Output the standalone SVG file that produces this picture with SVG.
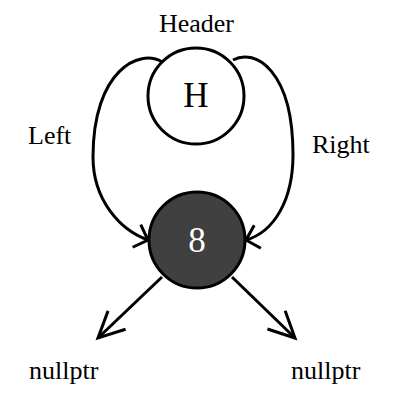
<svg xmlns="http://www.w3.org/2000/svg" width="400" height="400" viewBox="0 0 400 400">
<style>
  text { font-family: "Liberation Serif", "Times New Roman", "DejaVu Serif", serif; }
  .lbl { font-size: 26px; fill: #000; }
  .big { font-size: 35px; }
  .white { fill: #fff; }
  .node { stroke: #000; stroke-width: 3; }
  .conn { fill: none; stroke: #000; stroke-width: 3; }
  .head { fill: none; stroke: #000; stroke-width: 3; }
</style>
<defs>
  <marker id="arrC" markerUnits="userSpaceOnUse" orient="auto" overflow="visible" markerWidth="1" markerHeight="1" refX="0" refY="0">
    <path class="head" d="M-12,-12 L0,0 L-12,12"/>
  </marker>
  <marker id="arrS" markerUnits="userSpaceOnUse" orient="auto" overflow="visible" markerWidth="1" markerHeight="1" refX="0" refY="0">
    <path class="head" d="M-26,-12.7 L0,0 L-26,12.7"/>
  </marker>
</defs>
<rect width="400" height="400" fill="#fff"/>
<g id="connectors">
  <path class="conn" d="M162,62 C140,48 93,70 93,157 C93,200 120,230 148,240" marker-end="url(#arrC)"/>
  <path class="conn" d="M233,60 C255,48 293,70 293,155 C293,200 274,232 246,240" marker-end="url(#arrC)"/>
  <line class="conn" x1="162" y1="277" x2="98" y2="338" marker-end="url(#arrS)"/>
  <line class="conn" x1="232" y1="277" x2="295" y2="338" marker-end="url(#arrS)"/>
</g>
<g id="header">
  <circle class="node" cx="196" cy="96" r="48" fill="#fff"/>
  <text class="lbl big" x="196" y="107" text-anchor="middle">H</text>
</g>
<g id="node8">
  <circle class="node" cx="197" cy="240" r="48" fill="#404040"/>
  <text class="lbl big white" x="197" y="252" text-anchor="middle">8</text>
</g>
<g id="labels">
  <text class="lbl" x="196.5" y="32" text-anchor="middle">Header</text>
  <text class="lbl" x="28" y="144">Left</text>
  <text class="lbl" x="312" y="153">Right</text>
  <text class="lbl" x="29" y="379">nullptr</text>
  <text class="lbl" x="291" y="379">nullptr</text>
</g>
</svg>
